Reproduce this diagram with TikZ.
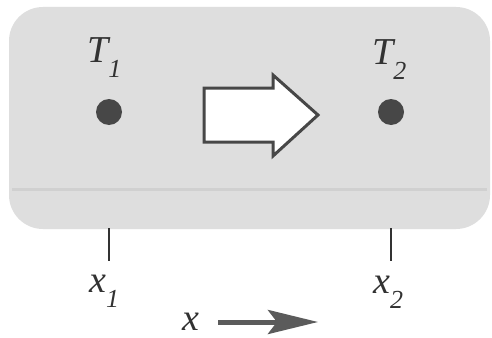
\documentclass[tikz,border=0pt]{standalone}
\usepackage{fontspec}
\setmainfont{Liberation Serif}
\usetikzlibrary{arrows.meta}
\definecolor{boxgray}{RGB}{222,222,222}
\definecolor{bandgray}{RGB}{208,208,208}
\definecolor{ink}{RGB}{50,50,50}
\newcommand{\lbl}[2]{\fontsize{38}{40}\selectfont\itshape #1\raisebox{-15pt}{\fontsize{26}{26}\selectfont #2}}
\tikzset{
  lab/.style={inner sep=0pt, anchor=base west, text=ink},
  pt/.style={circle, fill=ink!90, inner sep=0pt, minimum size=26pt},
  tick/.style={draw=ink, line width=2.6pt},
  bigarrow/.style={draw=ink!90, line width=3pt, fill=white, line join=miter},
  dirarrow/.style={draw=ink!80, line width=5pt, -{Stealth[length=50pt,width=24pt,inset=9pt]}}
}
\begin{document}
\begin{tikzpicture}[x=1pt,y=-1pt]
\useasboundingbox (0,0) rectangle (492,337);
\fill[white] (0,0) rectangle (492,337);
\fill[boxgray, rounded corners=34pt] (9,7) rectangle (490,229);
\draw[bandgray, line width=3pt] (12,189) -- (487,189);
\node[pt] (d1) at (109,112) {};
\node[pt] (d2) at (391,112) {};
\node[lab] (T1) at (87,63) {\lbl{T}{1}};
\node[lab] (T2) at (372,64) {\lbl{T}{2}};
\draw[bigarrow] (204,88) -- (273,88) -- (273,75) -- (318,115) -- (273,156) -- (273,142) -- (204,142) -- cycle;
\coordinate (t1a) at (109,228);
\coordinate (t1b) at (109,261);
\coordinate (t2a) at (391,228);
\coordinate (t2b) at (391,261);
\draw[tick] (t1a) -- (t1b);
\draw[tick] (t2a) -- (t2b);
\node[lab] (x1) at (89,292) {\lbl{x}{1}};
\node[lab] (x2) at (373,293) {\lbl{x}{2}};
\node[lab] (xl) at (182,330) {\fontsize{38}{40}\selectfont\itshape x};
\coordinate (xs) at (218,322);
\coordinate (xe) at (318,322);
\draw[dirarrow] (xs) -- (xe);
\end{tikzpicture}
\end{document}
